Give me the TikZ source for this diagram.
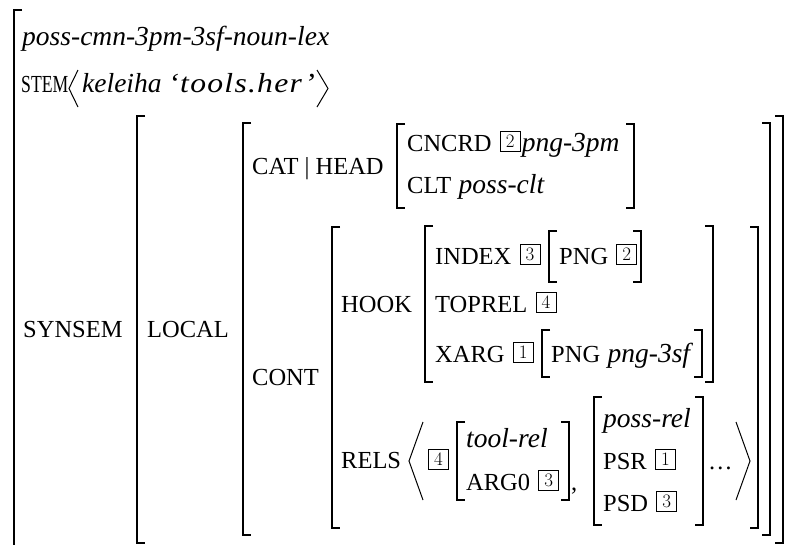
\documentclass[tikz,border=0pt]{standalone}
\usepackage{fontspec}
\usepackage{graphicx}
\newfontfamily\avmfont{Liberation Serif}
\usetikzlibrary{positioning}

\tikzset{
  feat/.style = {anchor=base west, inner sep=0pt, font=\avmfont\fontsize{24.5}{28}\selectfont},
  sort/.style = {anchor=base west, inner sep=0pt, font=\avmfont\fontsize{27.5}{30}\selectfont\itshape},
  tag/.style = {draw, line width=0.8pt, anchor=south west, xshift=8pt, yshift=-1pt,
                minimum width=20pt, minimum height=20pt, inner sep=0pt,
                font=\rmfamily\fontsize{19}{19}\selectfont},
  brk/.style = {line width=1.4pt},
  ang/.style = {line width=1pt},
}
% left and right brackets: {x}{top}{bottom}
\newcommand\lbrk[3]{\draw[brk] (#1+8,#2) -- (#1,#2) -- (#1,#3) -- (#1+8,#3);}
\newcommand\rbrk[3]{\draw[brk] (#1-8,#2) -- (#1,#2) -- (#1,#3) -- (#1-8,#3);}

\begin{document}
\begin{tikzpicture}[x=1pt, y=-1pt]
\useasboundingbox (0,0) rectangle (787,544);

% whole sign
\draw[brk] (22,10) -- (14,10) -- (14,560);
\node[sort] (lex) at (22,45) {poss-cmn-3pm-3sf-noun-lex};
\node[feat] (stem) at (21,92) {\scalebox{0.72}[1]{STEM}};
\draw[ang] (78,70) -- (69,88.5) -- (78,107);
\node[sort] (orth) at (82,92) {keleiha \scalebox{1.15}[1]{\addfontfeatures{LetterSpace=4}‘tools.her’}};
\draw[ang] (317,70) -- (328,88.5) -- (317,107);

% synsem and local
\node[feat] (synsem) at (23,337) {SYNSEM};
\lbrk{137}{116}{543} \rbrk{783}{116}{543}
\node[feat] (local) at (147,337) {LOCAL};
\lbrk{243}{123}{535} \rbrk{770}{123}{535}

% cat|head
\node[feat] (cathead) at (252,174) {CAT | HEAD};
\lbrk{397}{124}{208} \rbrk{634}{124}{208}
\node[feat] (cncrd) at (407,151) {CNCRD};
\node[tag] (cncrdtag) at (cncrd.base east) {2};
\node[sort] (cncrdval) at ([xshift=1pt]cncrdtag.east |- cncrd.base) {png-3pm};
\node[feat] (clt) at (407,193) {CLT};
\node[sort] (cltval) at ([xshift=7pt]clt.base east) {poss-clt};

% cont
\node[feat] (cont) at (252,385) {CONT};
\lbrk{332}{227}{528} \rbrk{758}{227}{528}
\node[feat] (hook) at (341,312) {HOOK};
\lbrk{425}{226}{382} \rbrk{713}{226}{382}
\node[feat] (index) at (435,264) {INDEX};
\node[tag] (indextag) at (index.base east) {3};
\lbrk{549}{231}{282} \rbrk{641}{231}{282}
\node[feat] (indexpng) at (559,264) {PNG};
\node[tag] (indexpngtag) at (indexpng.base east) {2};
\node[feat] (toprel) at (435,312) {TOPREL};
\node[tag] (topreltag) at (toprel.base east) {4};
\node[feat] (xarg) at (435,362) {XARG};
\node[tag] (xargtag) at (xarg.base east) {1};
\lbrk{542}{330}{377} \rbrk{702}{330}{377}
\node[feat] (xargpng) at (551,362) {PNG};
\node[sort] (xargval) at ([xshift=7pt]xargpng.base east) {png-3sf};

% rels list
\node[feat] (rels) at (341,468) {RELS};
\draw[ang] (423,422) -- (409,461) -- (423,500);
\node[tag] (relstag) at (420,469) {4};
\lbrk{457}{422}{500} \rbrk{569}{422}{500}
\node[sort] (toolrel) at (466,447) {tool-rel};
\node[feat] (arg0) at (466,490) {ARG0};
\node[tag] (arg0tag) at (arg0.base east) {3};
\node[feat] (comma) at (571,490) {,};
\lbrk{594}{397}{525} \rbrk{703}{397}{525}
\node[sort] (possrel) at (603,427) {poss-rel};
\node[feat] (psr) at (603,469) {PSR};
\node[tag] (psrtag) at (psr.base east) {1};
\node[feat] (psd) at (603,511) {PSD};
\node[tag] (psdtag) at (psd.base east) {3};
\node[feat] (more) at (708,469) {\dots};
\draw[ang] (736,422) -- (750,461) -- (736,500);
\end{tikzpicture}
\end{document}
